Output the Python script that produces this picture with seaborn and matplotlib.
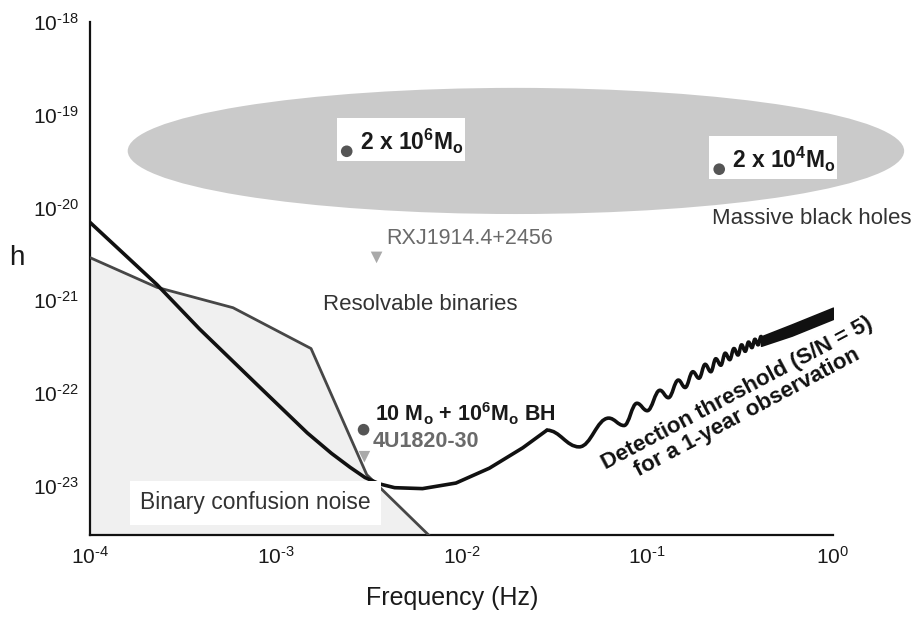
import numpy as np
import matplotlib
matplotlib.use("Agg")
import matplotlib.pyplot as plt
import matplotlib.transforms as mtransforms
from matplotlib.patches import Ellipse, Rectangle, PathPatch
from matplotlib.path import Path
import seaborn as sns

sns.set_style("white")
plt.rcParams["font.family"] = ["Liberation Sans", "DejaVu Sans"]
plt.rcParams["mathtext.fontset"] = "custom"
plt.rcParams["mathtext.rm"] = "Liberation Sans"
plt.rcParams["mathtext.it"] = "Liberation Sans:italic"
plt.rcParams["mathtext.bf"] = "Liberation Sans:bold"

# ---------------------------------------------------------------- data
# axis ranges, log10 units
x_log_range = (-4.0, 0.0)
y_log_range = (-23.53, -18.0)

x_ticks = [1e-4, 1e-3, 1e-2, 1e-1, 1e0]
x_tick_labels = [r"$\mathregular{10^{\text{-}4}}$", r"$\mathregular{10^{\text{-}3}}$",
                 r"$\mathregular{10^{\text{-}2}}$", r"$\mathregular{10^{\text{-}1}}$",
                 r"$\mathregular{10^{0}}$"]
y_ticks = [1e-23, 1e-22, 1e-21, 1e-20, 1e-19, 1e-18]
y_tick_labels = [r"$\mathregular{10^{\text{-}23}}$", r"$\mathregular{10^{\text{-}22}}$",
                 r"$\mathregular{10^{\text{-}21}}$", r"$\mathregular{10^{\text{-}20}}$",
                 r"$\mathregular{10^{\text{-}19}}$", r"$\mathregular{10^{\text{-}18}}$"]

# detector sensitivity, smooth low-frequency branch (log10 Hz, log10 h)
sens_logf = [-4.00, -3.64, -3.41, -3.10, -2.83, -2.70, -2.60, -2.52, -2.44,
             -2.36, -2.21, -2.03, -1.85, -1.67, -1.54]
sens_logh = [-20.16, -20.83, -21.31, -21.91, -22.43, -22.65, -22.80, -22.91,
             -22.98, -23.02, -23.03, -22.97, -22.81, -22.59, -22.40]

# arm-length ripples: alternating troughs and peaks (Hz, log10 h)
ripple_f = [0.043, 0.062, 0.075, 0.088, 0.100, 0.117, 0.130, 0.147, 0.160,
            0.176, 0.190, 0.205, 0.220, 0.234, 0.249, 0.263, 0.278, 0.293,
            0.308, 0.322, 0.337, 0.351, 0.366, 0.380, 0.395, 0.410]
ripple_logh = [-22.58, -22.27, -22.35, -22.11, -22.19, -21.97, -22.05, -21.86,
               -21.94, -21.77, -21.84, -21.69, -21.77, -21.63, -21.70, -21.57,
               -21.64, -21.52, -21.59, -21.48, -21.55, -21.45, -21.51, -21.42,
               -21.48, -21.39]

# dense ripple band at the high-frequency end (Hz, log10 h)
band_f = [0.410, 0.60, 1.00]
band_upper_logh = [-21.39, -21.26, -21.08]
band_lower_logh = [-21.49, -21.38, -21.20]

# galactic binary confusion noise (log10 Hz, log10 h)
conf_logf = [-4.00, -3.64, -3.23, -2.81, -2.51, -2.09]
conf_logh = [-20.54, -20.86, -21.08, -21.52, -22.88, -23.70]

# massive black hole region (log10 centre and half-extent)
mbh_center = (-1.707, -19.39)
mbh_halfwidth = (2.09, 0.68)

# sources
mbh_f = [2.41e-3, 0.244]
mbh_h = [4.04e-20, 2.59e-20]
mbh_labels = [r"2 x 10$^{\mathregular{6}}$M$_{\mathregular{o}}$",
              r"2 x 10$^{\mathregular{4}}$M$_{\mathregular{o}}$"]

emri_f = [2.97e-3]
emri_h = [4.03e-23]
emri_labels = [r"10 M$_{\mathregular{o}}$ + 10$^{\mathregular{6}}$M$_{\mathregular{o}}$ BH"]

binary_f = [3.49e-3, 3.0e-3]
binary_h = [2.9e-21, 2.06e-23]
binary_labels = ["RXJ1914.4+2456", "4U1820-30"]

# ---------------------------------------------------------------- figure
W, H = 914, 619
fig = plt.figure(figsize=(W / 100, H / 100), dpi=100)
ax = fig.add_axes([90 / W, 1 - 535 / H, 743 / W, 513 / H])
ax.set_xscale("log")
ax.set_yscale("log")
ax.set_xlim(10 ** x_log_range[0], 10 ** x_log_range[1])
ax.set_ylim(10 ** y_log_range[0], 10 ** y_log_range[1])

# transform from (log10 f, log10 h) to the axes box
logT = mtransforms.Affine2D().translate(-x_log_range[0], -y_log_range[0]).scale(
    1 / (x_log_range[1] - x_log_range[0]), 1 / (y_log_range[1] - y_log_range[0])
) + ax.transAxes

# massive black holes ellipse
ax.add_patch(Ellipse(mbh_center, 2 * mbh_halfwidth[0], 2 * mbh_halfwidth[1],
                     transform=logT, facecolor="#cacaca", edgecolor="none",
                     clip_on=False, zorder=1))

# confusion-noise shading and line
conf_f = 10 ** np.array(conf_logf)
conf_h = 10 ** np.array(conf_logh)
ax.fill_between(conf_f, conf_h, 10 ** y_log_range[0], color="#f0f0f0",
                lw=0, zorder=0)
sns.lineplot(x=conf_f, y=conf_h, ax=ax, color="#474747", lw=2.0,
             sort=False, estimator=None, zorder=3)

# sensitivity curve
sens_f = 10 ** np.array(sens_logf)
sens_h = 10 ** np.array(sens_logh)
sns.lineplot(x=sens_f, y=sens_h, ax=ax, color="#111111", lw=2.6,
             sort=False, estimator=None, zorder=4,
             solid_capstyle="round", solid_joinstyle="round")

# ripples drawn as smooth arcs with flat tangents at each extremum
ext_lx = np.concatenate([[sens_logf[-1]], np.log10(ripple_f)])
ext_ly = np.concatenate([[sens_logh[-1]], ripple_logh])
verts = [(ext_lx[0], ext_ly[0])]
codes = [Path.MOVETO]
for i in range(len(ext_lx) - 1):
    dx = ext_lx[i + 1] - ext_lx[i]
    verts += [(ext_lx[i] + 0.4 * dx, ext_ly[i]),
              (ext_lx[i + 1] - 0.4 * dx, ext_ly[i + 1]),
              (ext_lx[i + 1], ext_ly[i + 1])]
    codes += [Path.CURVE4] * 3
ax.add_patch(PathPatch(Path(verts, codes), transform=logT, fill=False,
                       edgecolor="#111111", lw=2.6, zorder=4,
                       joinstyle="round", capstyle="round"))

# high-frequency band
ax.fill_between(band_f, 10 ** np.array(band_lower_logh),
                10 ** np.array(band_upper_logh), color="#111111",
                lw=1.2, edgecolor="#111111", zorder=4)

# markers
sns.scatterplot(x=mbh_f, y=mbh_h, ax=ax, color="#555555", s=70,
                edgecolor="none", zorder=7)
sns.scatterplot(x=emri_f, y=emri_h, ax=ax, color="#555555", s=70,
                edgecolor="none", zorder=7)
sns.scatterplot(x=binary_f, y=binary_h, ax=ax, color="#a9a9a9", s=70,
                marker="v", edgecolor="none", zorder=7)

# labels of the massive black holes, on white boxes
for f, h, lab in zip(mbh_f, mbh_h, mbh_labels):
    px, py = ax.transData.transform((f, h))
    ax.add_patch(Rectangle((px - 10, py - 10), 128, 43,
                           transform=mtransforms.IdentityTransform(),
                           facecolor="white", edgecolor="none",
                           clip_on=False, zorder=2))
    ax.annotate(lab, (f, h), xytext=(13, 10), textcoords="offset pixels",
                ha="left", va="center", fontsize=16.5, fontweight="bold",
                color="#1a1a1a", zorder=8)

ax.annotate(emri_labels[0], (emri_f[0], emri_h[0]), xytext=(11, 16),
            textcoords="offset pixels", ha="left", va="center",
            fontsize=15.5, fontweight="bold", color="#1a1a1a", zorder=8)
ax.annotate(binary_labels[0], (binary_f[0], binary_h[0]), xytext=(10, 19),
            textcoords="offset pixels", ha="left", va="center",
            fontsize=15.5, color="#6a6a6a", zorder=8)
ax.annotate(binary_labels[1], (binary_f[1], binary_h[1]), xytext=(8, 15),
            textcoords="offset pixels", ha="left", va="center",
            fontsize=15.5, fontweight="bold", color="#6a6a6a", zorder=8)

# region labels
def ax_xy(px, py):
    return (px - 90) / 743, (535 - py) / 513

ax.text(*ax_xy(911, 219), "Massive black holes", transform=ax.transAxes,
        ha="right", va="center", fontsize=16, color="#333333",
        clip_on=False, zorder=8)
ax.text(*ax_xy(323, 305), "Resolvable binaries", transform=ax.transAxes,
        ha="left", va="center", fontsize=16, color="#333333", zorder=8)
ax.text(*ax_xy(140, 503), "Binary confusion noise", transform=ax.transAxes,
        ha="left", va="center", fontsize=16.5, color="#333333", zorder=8,
        bbox=dict(boxstyle="square,pad=0.45", facecolor="white",
                  edgecolor="none"))
ax.text(*ax_xy(742, 403), "Detection threshold (S/N = 5)\nfor a 1-year observation",
        transform=ax.transAxes, ha="center", va="center", rotation=28,
        rotation_mode="anchor", fontsize=16, fontweight="bold",
        color="#111111", linespacing=1.05, zorder=8)

# axes styling
for side in ("top", "right"):
    ax.spines[side].set_visible(False)
for side in ("left", "bottom"):
    ax.spines[side].set_linewidth(1.6)
    ax.spines[side].set_color("#111111")
ax.set_xticks(x_ticks)
ax.set_xticklabels(x_tick_labels)
ax.set_yticks(y_ticks)
ax.set_yticklabels(y_tick_labels)
ax.minorticks_off()
ax.tick_params(axis="both", which="major", direction="in", length=7,
               width=1.6, color="#111111", labelsize=15, pad=8,
               labelcolor="#1a1a1a")
ax.set_xlabel("Frequency (Hz)", fontsize=18, color="#1a1a1a")
ax.xaxis.label.set_va("center")
ax.xaxis.set_label_coords(ax_xy(452, 0)[0], ax_xy(0, 598)[1])
ax.set_ylabel("h", fontsize=20, rotation=0, color="#1a1a1a")
ax.yaxis.label.set_va("center")
ax.yaxis.set_label_coords(ax_xy(17, 0)[0], ax_xy(0, 258)[1])
ax.grid(False)

fig.savefig("out.png", dpi=100, facecolor="white")
